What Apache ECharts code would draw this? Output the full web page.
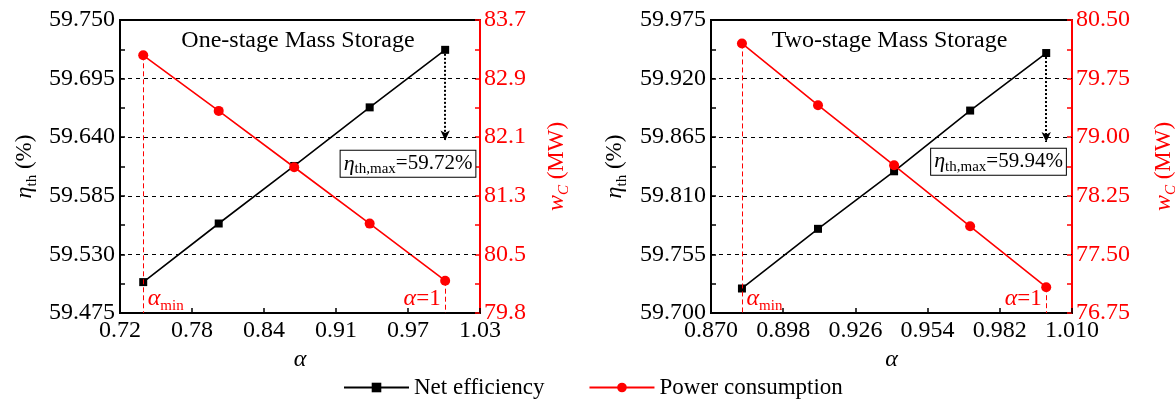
<!DOCTYPE html>
<html>
<head>
<meta charset="utf-8">
<script src="https://cdn.jsdelivr.net/npm/echarts@6/dist/echarts.min.js"></script>
<style>
  html, body { margin: 0; padding: 0; background: #fff; }
  #chart { width: 1175px; height: 404px; }
</style>
</head>
<body>
<div id="chart"></div>
<script>
// One-stage mass storage: split ratio α, net efficiency (%), compressor power (MW)
const alphaOne = [0.74, 0.805, 0.87, 0.935, 1.0];
const etaOne = [59.504, 59.559, 59.613, 59.668, 59.722];
const powerOne = [83.23, 82.49, 81.74, 80.99, 80.23];

// Two-stage mass storage
const alphaTwo = [0.882, 0.9115, 0.941, 0.9705, 1.0];
const etaTwo = [59.723, 59.779, 59.833, 59.890, 59.944];
const powerTwo = [80.20, 79.41, 78.64, 77.86, 77.08];

// Axis tick values
const xTicksOne = [0.72, 0.782, 0.844, 0.906, 0.968, 1.03];
const etaTicksOne = [59.475, 59.530, 59.585, 59.640, 59.695, 59.750];
const powerTicksOne = [79.8, 80.58, 81.36, 82.14, 82.92, 83.7];
const xTicksTwo = [0.870, 0.898, 0.926, 0.954, 0.982, 1.010];
const etaTicksTwo = [59.700, 59.755, 59.810, 59.865, 59.920, 59.975];
const powerTicksTwo = [76.75, 77.50, 78.25, 79.00, 79.75, 80.50];

const seriesNames = ['Net efficiency', 'Power consumption'];
const panelTitles = ['One-stage Mass Storage', 'Two-stage Mass Storage'];

const FONT = 'Liberation Serif';
const RED = '#ff0000';
const BLACK = '#000000';

function withMidpoints(t) {
  const out = [];
  for (let i = 0; i < t.length; i++) {
    out.push(t[i]);
    if (i < t.length - 1) out.push((t[i] + t[i + 1]) / 2);
  }
  return out;
}

function richSet(color, base, lh) {
  base = base || 23;
  lh = lh || 30;
  return {
    it: { fontFamily: FONT, fontStyle: 'italic', fontSize: base + 1, color: color, lineHeight: lh, verticalAlign: 'middle' },
    rm: { fontFamily: FONT, fontSize: base, color: color, lineHeight: lh, verticalAlign: 'middle' },
    sub: { fontFamily: FONT, fontSize: 15, color: color, lineHeight: 15, verticalAlign: 'bottom' },
    subIt: { fontFamily: FONT, fontStyle: 'italic', fontSize: 15, color: color, lineHeight: 15, verticalAlign: 'bottom' },
    t: { fontFamily: FONT, fontSize: 24, color: color }
  };
}

// tick label in the serif face
function tickLabel(fmt) {
  return v => '{t|' + fmt(v) + '}';
}

const panels = [
  {
    alpha: alphaOne, eta: etaOne, power: powerOne,
    xTicks: xTicksOne, etaTicks: etaTicksOne, powerTicks: powerTicksOne,
    xFmt: v => v.toFixed(2), etaFmt: v => v.toFixed(3),
    powerFmt: v => (Math.floor(v * 10 + 1e-6) / 10).toFixed(1),
    title: panelTitles[0], left: 120, width: 360,
    etaNameGap: 80, powerNameGap: 62,
    arrowTo: 59.637, box: [0.968, 59.615]
  },
  {
    alpha: alphaTwo, eta: etaTwo, power: powerTwo,
    xTicks: xTicksTwo, etaTicks: etaTicksTwo, powerTicks: powerTicksTwo,
    xFmt: v => v.toFixed(3), etaFmt: v => v.toFixed(3),
    powerFmt: v => v.toFixed(2),
    title: panelTitles[1], left: 711, width: 361,
    etaNameGap: 81, powerNameGap: 77,
    arrowTo: 59.8605, box: [0.9815, 59.842]
  }
];

const grid = [], xAxis = [], yAxis = [], series = [], graphic = [];

panels.forEach((p, gi) => {
  grid.push({
    left: p.left, top: 20, width: p.width, height: 293,
    outerBoundsMode: 'none', containLabel: false,
    show: true, borderColor: BLACK, borderWidth: 2, backgroundColor: 'transparent'
  });

  const xMin = p.xTicks[0], xMax = p.xTicks[p.xTicks.length - 1];

  xAxis.push({
    type: 'value', gridIndex: gi, min: xMin, max: xMax,
    name: '{it|α}', nameLocation: 'middle', nameGap: 29,
    nameTextStyle: { rich: richSet(BLACK) },
    axisLine: { show: true, onZero: false, lineStyle: { color: BLACK, width: 2 } },
    axisTick: { show: true, inside: true, length: 5, customValues: p.xTicks, lineStyle: { color: BLACK, width: 1.5 } },
    axisLabel: { customValues: p.xTicks, formatter: tickLabel(p.xFmt), rich: richSet(BLACK), margin: 6 },
    splitLine: { show: false }
  });

  yAxis.push({
    type: 'value', gridIndex: gi, position: 'left',
    min: p.etaTicks[0], max: p.etaTicks[p.etaTicks.length - 1],
    name: '{it|η}{sub|th}{rm| (%)}', nameLocation: 'middle', nameRotate: 90, nameGap: p.etaNameGap,
    nameTextStyle: { rich: richSet(BLACK) },
    axisLine: { show: true, onZero: false, lineStyle: { color: BLACK, width: 2 } },
    axisTick: { show: true, inside: true, length: 5, customValues: withMidpoints(p.etaTicks), lineStyle: { color: BLACK, width: 1.5 } },
    axisLabel: { customValues: p.etaTicks, formatter: tickLabel(p.etaFmt), rich: richSet(BLACK), margin: 5 },
    splitLine: { show: false }
  });

  yAxis.push({
    type: 'value', gridIndex: gi, position: 'right',
    min: p.powerTicks[0], max: p.powerTicks[p.powerTicks.length - 1],
    name: '{it|w}{subIt|C}{rm| (MW)}', nameLocation: 'middle', nameRotate: 90, nameGap: p.powerNameGap,
    nameTextStyle: { rich: richSet(RED) },
    axisLine: { show: true, onZero: false, lineStyle: { color: RED, width: 2 } },
    axisTick: { show: true, inside: true, length: 5, customValues: withMidpoints(p.powerTicks), lineStyle: { color: RED, width: 1.5 } },
    axisLabel: { customValues: p.powerTicks, formatter: tickLabel(p.powerFmt), rich: richSet(RED), margin: 4 },
    splitLine: { show: false }
  });

  const last = p.alpha.length - 1;
  const etaMax = Math.max.apply(null, p.eta);

  // horizontal dashed guides at the inner efficiency ticks
  const guides = p.etaTicks.slice(1, -1).map(v => [
    { coord: [xMin, v], symbol: 'none', lineStyle: { color: BLACK, width: 1, type: [4, 4] } },
    { coord: [xMax, v], symbol: 'none' }
  ]);

  // net efficiency line, dashed guides, arrow and the maximum-efficiency box
  series.push({
    name: seriesNames[0], type: 'line',
    xAxisIndex: gi, yAxisIndex: gi * 2,
    data: p.alpha.map((a, i) => [a, p.eta[i]]),
    symbol: 'rect', symbolSize: 8,
    lineStyle: { color: BLACK, width: 1.6 },
    itemStyle: { color: BLACK },
    z: 3,
    markLine: {
      silent: true, symbol: 'none', animation: false, precision: 4,
      label: { show: false },
      data: guides.concat([[
        { coord: [p.alpha[last], p.eta[last]], symbol: 'none', lineStyle: { color: BLACK, width: 2, type: [2, 2] } },
        { coord: [p.alpha[last], p.arrowTo], symbol: 'arrow', symbolSize: [7, 10] }
      ]])
    },
    markPoint: {
      silent: true, animation: false,
      data: [{
        coord: p.box, symbol: 'circle', symbolSize: 1, itemStyle: { color: 'transparent' },
        label: {
          show: true, position: 'inside',
          formatter: '{it|η}{sub|th,max}{rm|=' + etaMax.toFixed(2) + '%}',
          backgroundColor: '#fff', borderColor: BLACK, borderWidth: 1, padding: [0, 3, 0, 3],
          rich: richSet(BLACK, 21, 26)
        }
      }]
    }
  });

  // power consumption line with α limits
  const pMin = p.powerTicks[0];
  series.push({
    name: seriesNames[1], type: 'line',
    xAxisIndex: gi, yAxisIndex: gi * 2 + 1,
    data: p.alpha.map((a, i) => [a, p.power[i]]),
    symbol: 'circle', symbolSize: 10,
    lineStyle: { color: RED, width: 1.6 },
    itemStyle: { color: RED },
    z: 4,
    markLine: {
      silent: true, symbol: 'none', animation: false, precision: 4,
      label: { show: false },
      lineStyle: { color: RED, width: 1, type: [5, 3] },
      data: [
        [{ coord: [p.alpha[0], p.power[0]] }, { coord: [p.alpha[0], pMin] }],
        [{ coord: [p.alpha[last], p.power[last]] }, { coord: [p.alpha[last], pMin] }]
      ]
    },
    markPoint: {
      silent: true, animation: false,
      data: [
        {
          coord: [p.alpha[0], pMin], symbol: 'circle', symbolSize: 1, itemStyle: { color: 'transparent' },
          label: { show: true, position: 'right', distance: 4, offset: [0, -14], formatter: '{it|α}{sub|min}', rich: richSet(RED) }
        },
        {
          coord: [p.alpha[last], pMin], symbol: 'circle', symbolSize: 1, itemStyle: { color: 'transparent' },
          label: { show: true, position: 'left', distance: 4, offset: [0, -14], formatter: '{it|α}{rm|=1}', rich: richSet(RED) }
        }
      ]
    }
  });

  graphic.push({
    type: 'text', x: p.left + p.width / 2 - 2, y: 41,
    style: {
      text: p.title, fontFamily: FONT, fontSize: 24, fill: BLACK,
      textAlign: 'center', textVerticalAlign: 'middle'
    }
  });
});

const chart = echarts.init(document.getElementById('chart'));
chart.setOption({
  animation: false,
  backgroundColor: '#ffffff',
  textStyle: { fontFamily: FONT },
  grid: grid,
  xAxis: xAxis,
  yAxis: yAxis,
  series: series,
  graphic: graphic,
  legend: {
    data: seriesNames,
    left: 343, top: 376, padding: 0,
    itemWidth: 65, itemHeight: 12, itemGap: 44,
    formatter: name => '{l|' + name + '}',
    textStyle: {
      fontFamily: FONT, fontSize: 23, color: BLACK,
      rich: { l: { fontFamily: FONT, fontSize: 23, color: BLACK } }
    }
  }
});
</script>
</body>
</html>
